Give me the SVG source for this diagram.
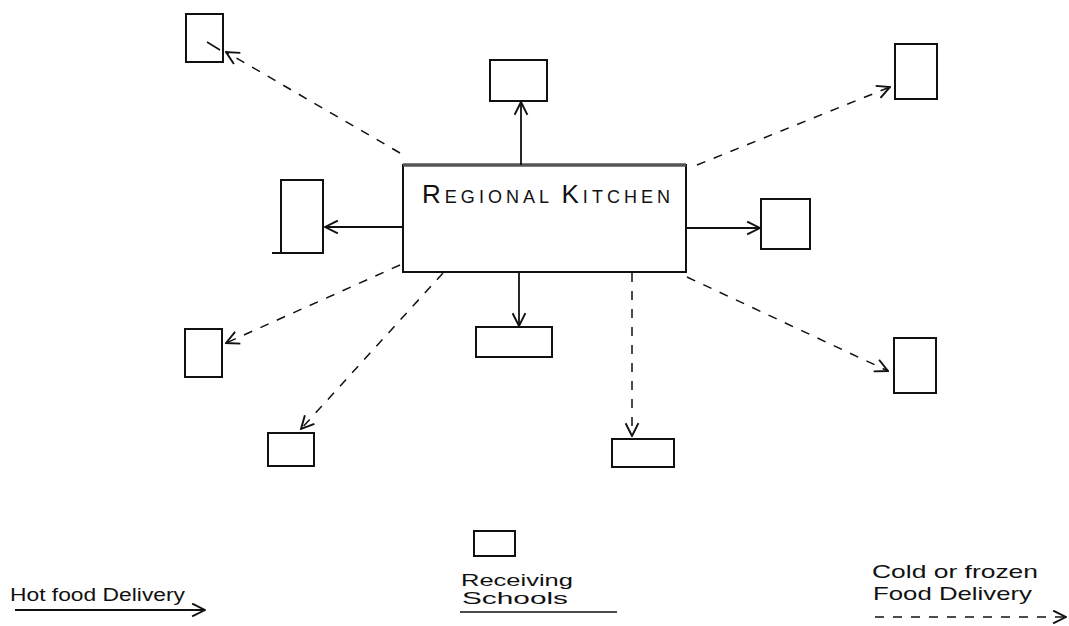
<svg xmlns="http://www.w3.org/2000/svg" width="1069" height="626" viewBox="0 0 1069 626">
  <style>
    .box { fill: none; stroke: #111; stroke-width: 2; }
    .solid { fill: none; stroke: #111; stroke-width: 1.8; marker-end: url(#open); }
    .dash { fill: none; stroke: #111; stroke-width: 1.5; stroke-dasharray: 9 9; marker-end: url(#open); }
    .hand { font-family: "Liberation Sans", Arial, sans-serif; fill: #111; }
  </style>
  <defs>
    <marker id="open" viewBox="0 0 14 14" refX="13" refY="7" markerWidth="15" markerHeight="15" markerUnits="userSpaceOnUse" orient="auto">
      <path d="M1,1 L13,7 L1,13" fill="none" stroke="#111" stroke-width="1.8"/>
    </marker>
  </defs>

  <rect width="1069" height="626" fill="#fff"/>

  <!-- central kitchen -->
  <g id="kitchen">
    <rect class="box" x="403" y="165" width="283" height="107"/>
    <line x1="403" y1="165" x2="686" y2="165" stroke="#555" stroke-width="3.5"/>
    <text class="hand" x="422" y="203" font-size="18" textLength="248" lengthAdjust="spacing"><tspan font-size="26">R</tspan>EGIONAL <tspan font-size="26">K</tspan>ITCHEN</text>
  </g>

  <!-- receiving schools -->
  <g id="school-top-left"><rect class="box" x="186" y="14" width="37" height="48"/></g>
  <g id="school-top"><rect class="box" x="490" y="60" width="57" height="41"/></g>
  <g id="school-top-right"><rect class="box" x="895" y="44" width="42" height="55"/></g>
  <g id="school-left"><rect class="box" x="281" y="180" width="42" height="73"/><line x1="272" y1="253" x2="281" y2="253" stroke="#111" stroke-width="2"/></g>
  <g id="school-right"><rect class="box" x="761" y="199" width="49" height="50"/></g>
  <g id="school-lower-left"><rect class="box" x="185" y="329" width="37" height="48"/></g>
  <g id="school-lower-right"><rect class="box" x="894" y="338" width="42" height="55"/></g>
  <g id="school-bottom-left"><rect class="box" x="268" y="433" width="46" height="33"/></g>
  <g id="school-bottom"><rect class="box" x="476" y="327" width="76" height="30"/></g>
  <g id="school-bottom-right"><rect class="box" x="612" y="439" width="62" height="28"/></g>

  <!-- delivery routes -->
  <g id="connectors">
    <line class="solid" x1="521" y1="165" x2="521" y2="102"/>
    <line class="solid" x1="403" y1="227" x2="325" y2="227"/>
    <line class="solid" x1="686" y1="228" x2="760" y2="228"/>
    <line class="solid" x1="519" y1="272" x2="519" y2="326"/>
    <line class="dash" x1="400" y1="153" x2="226" y2="52"/>
    <line x1="207" y1="42" x2="220" y2="50" stroke="#111" stroke-width="1.5"/>
    <line class="dash" x1="697" y1="165" x2="890" y2="87"/>
    <line class="dash" x1="400" y1="265" x2="226" y2="343"/>
    <line class="dash" x1="443" y1="273" x2="301" y2="429"/>
    <line class="dash" x1="632" y1="273" x2="632" y2="436"/>
    <line class="dash" x1="687" y1="277" x2="888" y2="371"/>
  </g>

  <!-- key -->
  <g id="legend-hot">
    <text class="hand" x="10" y="601" font-size="18" textLength="175" lengthAdjust="spacingAndGlyphs">Hot food Delivery</text>
    <line class="solid" x1="15" y1="610" x2="205" y2="610"/>
  </g>
  <g id="legend-schools">
    <rect class="box" x="474" y="531" width="41" height="25"/>
    <text class="hand" x="461" y="586" font-size="17" textLength="112" lengthAdjust="spacingAndGlyphs">Receiving</text>
    <text class="hand" x="462" y="604" font-size="17" textLength="106" lengthAdjust="spacingAndGlyphs">Schools</text>
    <line x1="460" y1="612" x2="617" y2="612" stroke="#111" stroke-width="1.4"/>
  </g>
  <g id="legend-cold">
    <text class="hand" x="872" y="578" font-size="19" textLength="166" lengthAdjust="spacingAndGlyphs">Cold or frozen</text>
    <text class="hand" x="873" y="600" font-size="19" textLength="159" lengthAdjust="spacingAndGlyphs">Food Delivery</text>
    <line class="dash" x1="875" y1="617" x2="1066" y2="617" stroke-dasharray="7 8"/>
  </g>
</svg>
